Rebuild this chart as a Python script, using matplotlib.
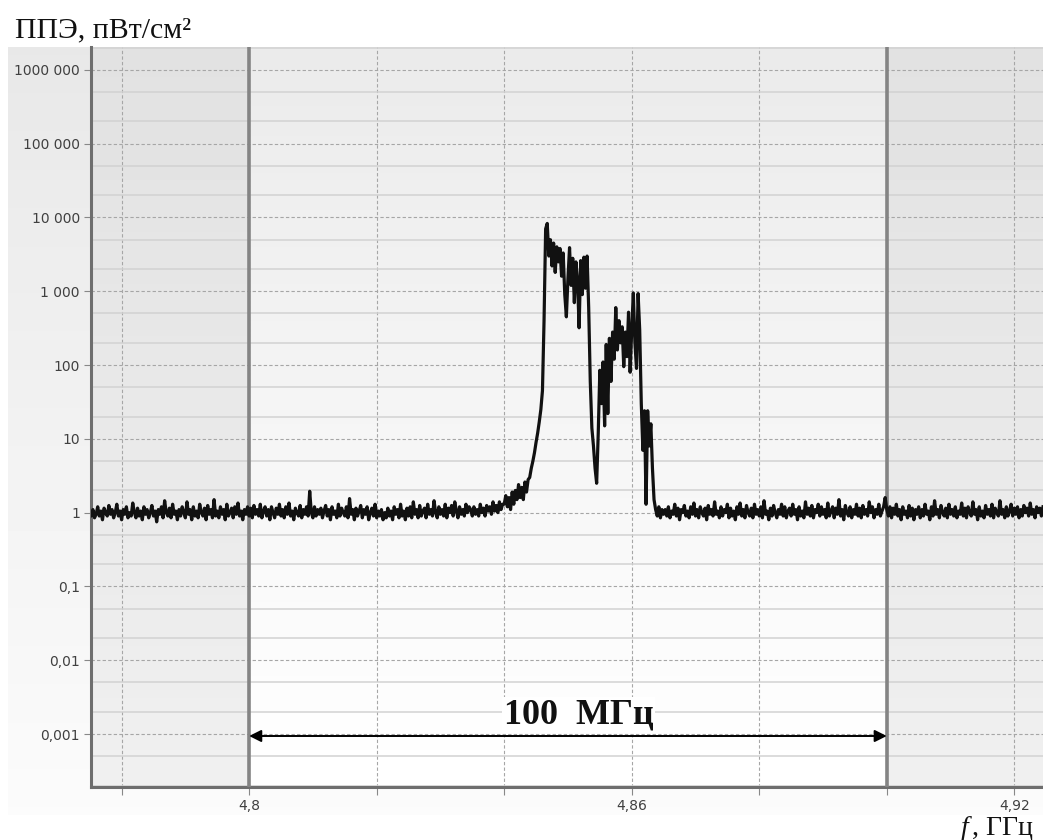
import numpy as np
import matplotlib
matplotlib.use("Agg")
import matplotlib.pyplot as plt
from matplotlib.ticker import FixedLocator, NullFormatter

# spectrum samples, step 0.25 MHz
f_start = 4.775
f_step = 0.00025

noise_left = [
    1.0, 0.9, 1.1, 0.85, 0.95, 1.2, 0.9, 1.05, 0.8, 1.15, 1.0, 0.9, 1.25, 0.95, 1.1, 0.85, 1.0, 1.3, 0.9, 1.05,
    0.8, 1.1, 0.95, 1.2, 0.85, 1.0, 0.9, 1.35, 1.0, 0.85, 1.15, 0.9, 1.05, 0.8, 1.2, 0.95, 1.1, 0.85, 1.0, 1.25,
    0.9, 1.05, 0.75, 1.1, 0.95, 1.2, 0.85, 1.45, 1.0, 0.9, 1.15, 0.85, 1.3, 0.95, 1.05, 0.8, 1.1, 0.9, 1.2, 1.0,
    0.85, 1.4, 0.95, 1.1, 0.8, 1.2, 0.9, 1.05, 0.85, 1.3, 1.0, 0.9, 1.15, 0.8, 1.25, 0.95, 1.1, 0.85, 1.5, 0.9,
    1.05, 0.85, 1.2, 0.95, 1.1, 0.8, 1.3, 0.9, 1.0, 1.15, 0.85, 1.2, 0.95, 1.35, 0.9, 1.05, 0.8, 1.1, 0.95, 1.2,
    0.9, 1.15, 0.85, 1.25, 0.95, 1.1, 0.9, 1.3, 0.85, 1.05, 1.2, 0.9, 1.1, 0.8, 1.2, 1.0, 0.85, 1.15, 0.95, 1.3,
    0.9, 1.1, 0.85, 1.2, 0.95, 1.35, 0.9, 1.05, 0.8, 1.15, 1.0, 0.9, 1.25, 0.85, 1.1, 0.95, 1.2, 0.9, 1.95, 1.0,
    0.85, 1.2, 0.9, 1.1, 0.95, 1.15, 0.85, 1.05, 1.25, 0.9, 1.1, 0.8, 1.2, 0.95, 1.05, 0.85, 1.3, 0.9, 1.15, 1.0,
    0.9, 1.2, 0.85, 1.55, 0.95, 1.1, 0.8, 1.15, 0.9, 1.05, 1.25, 0.85, 1.1, 0.95, 1.2, 0.8, 1.0, 1.15, 0.9, 1.3,
    0.85, 1.05, 0.9, 1.1, 0.8, 1.0, 0.85, 1.15, 0.9, 1.05, 0.8, 1.2, 0.95, 1.1, 0.85, 1.3, 0.9, 1.05, 0.8, 1.15,
    0.9, 1.2, 0.85, 1.4, 0.95, 1.1, 0.85, 1.25, 0.9, 1.05, 1.15, 0.85, 1.3, 0.95, 1.1, 0.9, 1.45, 1.0, 0.85, 1.2,
    0.95, 1.1, 0.9, 1.3, 0.85, 1.15, 1.0, 1.25, 0.9, 1.4, 1.05, 0.85, 1.2, 0.95, 1.1, 0.9, 1.3, 1.0, 1.2, 1.1,
    0.9, 1.2, 0.95, 1.1, 0.9, 1.3, 1.0, 1.15, 0.9, 1.25, 1.05, 1.2, 0.95, 1.4, 1.05, 1.25, 1.0, 1.4, 1.1, 1.3,
]

signal = [
    1.3, 1.7, 1.2, 1.6, 1.1, 1.9, 1.3, 2.0, 1.5, 2.4, 1.6, 2.2, 1.5, 2.6, 1.9, 2.8, 3.0, 4.0, 5.0, 6.5,
    9.0, 12, 17, 25, 45, 400, 7000, 8300, 3000, 5000, 2200, 4500, 1800, 4000, 2500, 3800, 1600, 3300, 900, 450,
    1500, 3900, 1200, 2800, 700, 2500, 1400, 320, 2600, 900, 2900, 1100, 3000, 600, 60, 14, 8, 4, 2.5, 12,
    85, 30, 110, 15, 190, 22, 230, 60, 280, 120, 600, 160, 400, 200, 330, 95, 280, 130, 520, 80,
    300, 950, 200, 90, 930, 300, 30, 7, 24, 1.3, 24, 8, 16, 4, 1.5, 1.1, 0.9, 1.2, 0.85, 1.1,
    0.95,
]

noise_right = [
    1.1, 0.9, 1.2, 0.85, 1.05, 0.95, 1.3, 0.9, 1.15, 0.8, 1.1, 1.0, 1.25, 0.9, 1.05, 0.85, 1.2, 0.95, 1.35, 0.9,
    1.1, 0.85, 1.2, 1.0, 0.9, 1.15, 0.8, 1.25, 0.95, 1.1, 0.9, 1.4, 0.95, 1.05, 0.85, 1.2, 0.9, 1.1, 1.0, 1.3,
    0.85, 1.15, 0.9, 1.05, 0.8, 1.2, 0.95, 1.35, 0.9, 1.1, 0.85, 1.25, 1.0, 0.9, 1.15, 0.85, 1.3, 0.95, 1.1, 0.9,
    1.2, 0.85, 1.45, 0.95, 1.05, 0.8, 1.15, 0.9, 1.25, 1.0, 0.85, 1.1, 0.95, 1.3, 0.9, 1.2, 0.85, 1.05, 1.15, 0.9,
    1.3, 0.95, 1.1, 0.8, 1.2, 0.9, 1.05, 0.85, 1.4, 0.95, 1.15, 0.9, 1.25, 0.85, 1.1, 1.0, 1.3, 0.9, 1.2, 0.95,
    1.1, 0.85, 1.35, 0.9, 1.05, 1.2, 0.85, 1.15, 0.95, 1.5, 0.9, 1.1, 0.8, 1.25, 1.0, 0.9, 1.2, 0.85, 1.1, 0.95,
    1.3, 0.9, 1.15, 0.85, 1.25, 0.95, 1.1, 0.9, 1.4, 1.0, 1.2, 0.85, 1.1, 0.95, 1.3, 0.9, 1.05, 1.2, 1.6, 1.1,
    0.9, 1.2, 0.85, 1.15, 0.95, 1.3, 0.9, 1.1, 0.8, 1.2, 0.95, 1.05, 0.85, 1.25, 0.9, 1.15, 0.8, 1.1, 0.95, 1.2,
    0.85, 1.1, 0.9, 1.3, 0.95, 1.05, 0.8, 1.2, 0.9, 1.45, 0.95, 1.1, 0.85, 1.25, 1.0, 0.9, 1.15, 0.85, 1.3, 0.95,
    1.1, 0.9, 1.2, 0.85, 1.05, 0.95, 1.35, 0.9, 1.15, 0.85, 1.2, 1.0, 0.9, 1.4, 0.95, 1.1, 0.8, 1.2, 0.9, 1.05,
    0.85, 1.25, 0.95, 1.1, 0.9, 1.3, 0.85, 1.15, 1.0, 0.9, 1.45, 0.95, 1.1, 0.85, 1.2, 0.9, 1.05, 1.3, 0.9, 1.15,
    0.95, 1.2, 0.85, 1.1, 0.9, 1.25, 1.0, 1.15, 0.9, 1.35, 0.95, 1.1, 0.85, 1.2, 1.0, 1.15, 0.9, 1.2,
]

y_ticks = [1e6, 1e5, 1e4, 1e3, 1e2, 1e1, 1, 0.1, 0.01, 0.001]
y_labels = ["1000 000", "100 000", "10 000", "1 000", "100", "10", "1", "0,1", "0,01", "0,001"]
x_ticks = [4.78, 4.80, 4.82, 4.84, 4.86, 4.88, 4.90, 4.92]
x_labels = ["", "4,8", "", "", "4,86", "", "", "4,92"]

band_lo, band_hi = 4.80, 4.90
band_text = "100  МГц"

ppe = np.array(noise_left + signal + noise_right)
freq = f_start + f_step * np.arange(len(ppe))

xmin, xmax = 4.7752, 4.9245
ymin, ymax = 10 ** -3.718, 10 ** 6.31

W, H = 1043, 840
fig = plt.figure(figsize=(W / 100, H / 100), dpi=100)
fig.patch.set_facecolor("white")

# light grey chart background
bg = fig.add_axes([8 / W, 1 - 815 / H, (W - 8) / W, (815 - 47) / H], zorder=0)
grad = np.linspace(0.91, 0.985, 100).reshape(-1, 1)
bg.imshow(grad, cmap="gray", vmin=0, vmax=1, aspect="auto", extent=(0, 1, 0, 1))
bg.axis("off")

ax = fig.add_axes([91 / W, 1 - 787 / H, (W - 91) / W, (787 - 47) / H], zorder=1)
ax.set_facecolor("none")
ax.set_yscale("log")

def ax_x(v):
    return (v - xmin) / (xmax - xmin)

side = np.linspace(0.885, 0.94, 100).reshape(-1, 1)
mid = np.linspace(0.92, 1.0, 100).reshape(-1, 1)
for g, a, b in [(side, xmin, band_lo), (mid, band_lo, band_hi), (side, band_hi, xmax)]:
    ax.imshow(g, cmap="gray", vmin=0, vmax=1, aspect="auto", transform=ax.transAxes,
              extent=(ax_x(a), ax_x(b), 0, 1), zorder=0)

ax.set_xlim(xmin, xmax)
ax.set_ylim(ymin, ymax)

ax.yaxis.set_major_locator(FixedLocator(y_ticks))
ax.set_yticklabels(y_labels)
minor_y = [m * 10.0 ** e for e in range(-4, 7) for m in (2, 5)]
ax.yaxis.set_minor_locator(FixedLocator(minor_y))
ax.yaxis.set_minor_formatter(NullFormatter())
ax.set_xticks(x_ticks)
ax.set_xticklabels(x_labels)

ax.grid(True, which="major", axis="y", color="#a6a6a6", lw=0.8, ls=(0, (3, 2)), zorder=1)
ax.grid(True, which="minor", axis="y", color="#d2d2d2", lw=1.1, ls="-", zorder=1)
ax.grid(True, which="major", axis="x", color="#a6a6a6", lw=0.8, ls=(0, (3, 2)), zorder=1)

ax.tick_params(axis="y", which="major", length=5, width=0.8, color="#888888",
               labelsize=10, labelcolor="#404040", pad=3)
ax.tick_params(axis="y", which="minor", length=0)
ax.tick_params(axis="x", which="major", length=6, width=0.8, color="#888888",
               labelsize=10, labelcolor="#404040", pad=3)

for s in ["top", "right"]:
    ax.spines[s].set_visible(False)
for s in ["left", "bottom"]:
    ax.spines[s].set_color("#6e6e6e")
    ax.spines[s].set_linewidth(2.2)

ax.axvline(band_lo, color="#848484", lw=2.6, zorder=3)
ax.axvline(band_hi, color="#848484", lw=2.6, zorder=3)

ax.plot(freq, ppe, color="#111111", lw=2.3, zorder=5)

ax.annotate("", xy=(band_lo, 0.00094), xytext=(band_hi, 0.00094),
            arrowprops=dict(arrowstyle="<|-|>", color="black", lw=1.4,
                            mutation_scale=18, shrinkA=0, shrinkB=0), zorder=6)
ax.text(4.8517, 0.00138, band_text, ha="center", va="baseline", fontsize=26,
        fontweight="bold", family="Liberation Serif", color="#111111", zorder=6,
        bbox=dict(facecolor="white", edgecolor="none", pad=1))

fig.text(15 / W, 1 - 37 / H, "ППЭ, пВт/см²", family="Liberation Serif", fontsize=21.5,
         va="baseline", ha="left", color="#111111")
fig.text(961 / W, 1 - 835 / H, "f", family="Liberation Serif", fontstyle="italic",
         fontsize=20, va="baseline", ha="left", color="#111111")
fig.text(972 / W, 1 - 835 / H, ", ГГц", family="Liberation Serif",
         fontsize=20, va="baseline", ha="left", color="#111111")

fig.savefig("out.png", dpi=100)
